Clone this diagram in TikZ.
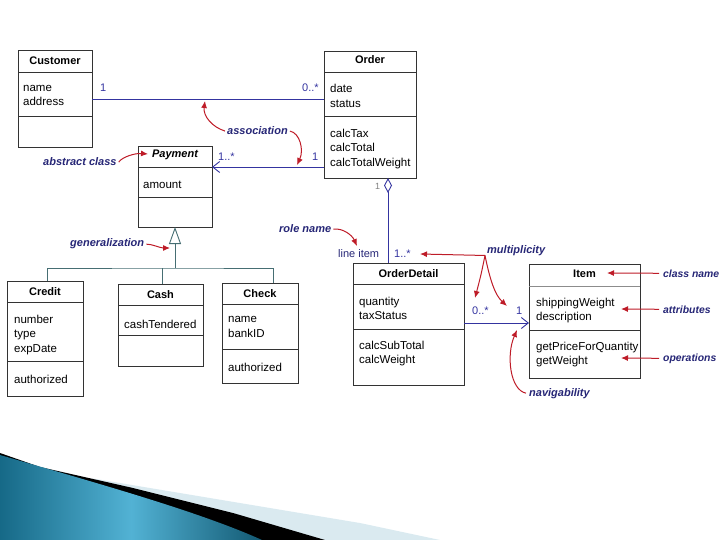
\documentclass[tikz,border=0pt]{standalone}
\usepackage{fontspec}
\setmainfont{Liberation Sans}
\usetikzlibrary{arrows.meta, positioning}

\definecolor{assocblue}{RGB}{52,52,160}
\definecolor{notenavy}{RGB}{38,38,118}
\definecolor{notered}{RGB}{190,28,40}
\definecolor{gencol}{RGB}{70,110,115}
\definecolor{swooshdark}{RGB}{22,105,135}
\definecolor{swooshlight}{RGB}{82,178,212}
\definecolor{swooshpale}{RGB}{218,234,240}

\begin{document}
\begin{tikzpicture}[x=1pt, y=-1pt,
    cls/.style={draw=black!80, line width=0.9pt, fill=white, anchor=north west, inner sep=0pt, outer sep=0pt},
    sep/.style={draw=black!80, line width=0.9pt},
    title/.style={anchor=base, inner sep=0pt, font=\fontsize{11}{13}\selectfont\bfseries},
    attr/.style={anchor=north west, align=left, inner sep=0pt, font=\fontsize{11.5}{14.5}\selectfont, execute at begin node=\strut},
    mult/.style={anchor=base west, inner sep=0pt, text=assocblue, font=\fontsize{11}{13}\selectfont},
    assoc/.style={draw=assocblue, line width=0.9pt},
    gen/.style={draw=gencol, line width=0.9pt},
    note/.style={anchor=base west, inner sep=0pt, text=notenavy, font=\fontsize{11}{13}\selectfont\bfseries\itshape},
    sidenote/.style={note, font=\fontsize{10.4}{13}\selectfont\bfseries\itshape},
    pointer/.style={draw=notered, line width=1pt, -{Latex[length=7pt, width=6pt]}},
    ]
    \useasboundingbox (0,0) rectangle (720,540);

    % slide swoosh
    \fill[swooshpale] (90,478) -- (360,523) -- (440,540) -- (320,540) -- cycle;
    \fill[black] (0,453) -- (40,467) -- (133,488) -- (233,513) -- (325,540) -- (0,540) -- cycle;
    \shade[left color=swooshdark, right color=swooshdark!85!black, middle color=swooshlight]
      (0,455) .. controls (100,484) and (200,512) .. (262,540) -- (0,540) -- cycle;

    % Customer
    \node[cls, minimum width=74pt, minimum height=97pt] (customer) at (18,50) {};
    \node[title] at ([yshift=-15pt]customer.north) {Customer};
    \draw[sep] ([yshift=-22pt]customer.north west) -- ([yshift=-22pt]customer.north east);
    \draw[sep] ([yshift=-66pt]customer.north west) -- ([yshift=-66pt]customer.north east);
    \node[attr] at ([shift={(5pt,-35pt)}]customer.north west) {name\\address};

    % Order
    \node[cls, minimum width=92pt, minimum height=127pt] (order) at (324,51) {};
    \node[title] at ([yshift=-13pt]order.north) {Order};
    \draw[sep] ([yshift=-21pt]order.north west) -- ([yshift=-21pt]order.north east);
    \draw[sep] ([yshift=-65pt]order.north west) -- ([yshift=-65pt]order.north east);
    \node[attr] at ([shift={(6pt,-33pt)}]order.north west) {date\\status};
    \node[attr] at ([shift={(6pt,-77.5pt)}]order.north west) {calcTax\\calcTotal\\calcTotalWeight};

    % Payment
    \node[cls, minimum width=74pt, minimum height=81pt] (payment) at (138,146) {};
    \node[title] at ([yshift=-11.5pt]payment.north) {\itshape Payment};
    \draw[sep] ([yshift=-21pt]payment.north west) -- ([yshift=-21pt]payment.north east);
    \draw[sep] ([yshift=-51pt]payment.north west) -- ([yshift=-51pt]payment.north east);
    \node[attr] at ([shift={(5pt,-32.5pt)}]payment.north west) {amount};

    % Credit
    \node[cls, minimum width=76pt, minimum height=115pt] (credit) at (7,281) {};
    \node[title] at ([yshift=-14pt]credit.north) {Credit};
    \draw[sep] ([yshift=-21pt]credit.north west) -- ([yshift=-21pt]credit.north east);
    \draw[sep] ([yshift=-80pt]credit.north west) -- ([yshift=-80pt]credit.north east);
    \node[attr] at ([shift={(7pt,-33.5pt)}]credit.north west) {number\\type\\expDate};
    \node[attr] at ([shift={(7pt,-92.5pt)}]credit.north west) {authorized};

    % Cash
    \node[cls, minimum width=85pt, minimum height=82pt] (cash) at (118,284) {};
    \node[title] at ([yshift=-14pt]cash.north) {Cash};
    \draw[sep] ([yshift=-21pt]cash.north west) -- ([yshift=-21pt]cash.north east);
    \draw[sep] ([yshift=-51pt]cash.north west) -- ([yshift=-51pt]cash.north east);
    \node[attr] at ([shift={(6pt,-34.5pt)}]cash.north west) {cashTendered};

    % Check
    \node[cls, minimum width=76pt, minimum height=100pt] (check) at (222,283) {};
    \node[title] at ([yshift=-14pt]check.north) {Check};
    \draw[sep] ([yshift=-21pt]check.north west) -- ([yshift=-21pt]check.north east);
    \draw[sep] ([yshift=-66pt]check.north west) -- ([yshift=-66pt]check.north east);
    \node[attr] at ([shift={(6pt,-33.5pt)}]check.north west) {name\\bankID};
    \node[attr] at ([shift={(6pt,-78.5pt)}]check.north west) {authorized};

    % OrderDetail
    \node[cls, minimum width=111pt, minimum height=122pt] (orderdetail) at (353,263) {};
    \node[title] at ([yshift=-14pt]orderdetail.north) {OrderDetail};
    \draw[sep] ([yshift=-21pt]orderdetail.north west) -- ([yshift=-21pt]orderdetail.north east);
    \draw[sep] ([yshift=-66pt]orderdetail.north west) -- ([yshift=-66pt]orderdetail.north east);
    \node[attr] at ([shift={(6pt,-33.5pt)}]orderdetail.north west) {quantity\\taxStatus};
    \node[attr] at ([shift={(6pt,-77.5pt)}]orderdetail.north west) {calcSubTotal\\calcWeight};

    % Item
    \node[cls, minimum width=111pt, minimum height=114pt] (item) at (529,264) {};
    \node[title] at ([yshift=-13pt]item.north) {Item};
    \draw[draw=black!45, line width=0.9pt] ([yshift=-22pt]item.north west) -- ([yshift=-22pt]item.north east);
    \draw[sep] ([yshift=-66pt]item.north west) -- ([yshift=-66pt]item.north east);
    \node[attr] at ([shift={(7pt,-33.5pt)}]item.north west) {shippingWeight\\description};
    \node[attr] at ([shift={(7pt,-77.5pt)}]item.north west) {getPriceForQuantity\\getWeight};

    % Associations
    \draw[assoc] (customer.east |- 0,99) -- (order.west |- 0,99);
    \draw[assoc, {Straight Barb[length=7pt, width=11pt]}-] (payment.east |- 0,167) -- (order.west |- 0,167);
    \draw[assoc, {Diamond[open, length=15pt, width=8pt]}-] (order.south -| 388,0) -- (orderdetail.north -| 388,0);
    \draw[assoc, -{Straight Barb[length=7pt, width=11pt]}] (orderdetail.east |- 0,323) -- (item.west |- 0,323);

    % Generalization
    \coordinate (genbar) at (175,268);
    \draw[gen, -{Triangle[open, length=17pt, width=12pt]}] (genbar) -- (payment.south);
    \draw[gen] ([xshift=2pt]credit.north) |- (genbar) -| ([xshift=13pt]check.north);
    \draw[gen] ([xshift=1.5pt]cash.north) -- ([xshift=1.5pt]cash.north |- genbar);

    % Multiplicities and role name
    \node[mult] (mcust) at (100,92) {1};
    \node[mult] (morder) at (302,92) {0..*};
    \node[mult] (mpay) at (218,161) {1..*};
    \node[mult] (morderpay) at (312,161) {1};
    \node[mult, text=gray, font=\fontsize{9}{11}\selectfont] (morderdet) at (375,190) {1};
    \node[mult, text=notenavy] (rolename) at (338,257) {line item};
    \node[mult] (mdetail) at (394,257) {1..*};
    \node[mult] (mdetitem) at (472,314) {0..*};
    \node[mult] (mitem) at (516,314) {1};

    % Notes
    \node[note] (nassoc) at (227,135) {association};
    \node[note] (nabstract) at (43,166) {abstract class};
    \node[note] (ngen) at (70,247) {generalization};
    \node[note] (nrole) at (279,233) {role name};
    \node[note] (nmult) at (487,253) {multiplicity};
    \node[sidenote] (nclass) at (663,277) {class name};
    \node[sidenote] (nattr) at (663,313) {attributes};
    \node[sidenote] (nops) at (663,361) {operations};
    \node[note] (nnav) at (529,396) {navigability};

    % Pointer tips
    \coordinate (assocA) at (205,101);
    \coordinate (assocB) at (297,165);
    \coordinate (abstractA) at (148,154);
    \coordinate (genA) at (170,248);
    \coordinate (roleA) at (357,246);
    \coordinate (multA) at (420,254);
    \coordinate (multB) at (475,298);
    \coordinate (multC) at (507,306);
    \coordinate (classA) at (607,273);
    \coordinate (attrA) at (621,309);
    \coordinate (opA) at (621,358);
    \coordinate (navA) at (517,330);

    % Pointers
    \draw[pointer] ([xshift=-2pt]nassoc.west) .. controls (212,127) and (203,116) .. (assocA);
    \draw[pointer] ([xshift=2pt]nassoc.east) .. controls (300,133) and (304,150) .. (assocB);
    \draw[pointer] ([xshift=2pt]nabstract.east) .. controls (122,157) and (135,153) .. (abstractA);
    \draw[pointer] ([xshift=2pt]ngen.east) .. controls (152,244) and (160,248) .. (genA);
    \draw[pointer] ([xshift=2pt]nrole.east) .. controls (343,228) and (352,235) .. (roleA);
    \draw[pointer] ([xshift=-2pt]nmult.south west) -- (multA);
    \draw[pointer] ([xshift=-2pt]nmult.south west) .. controls (481,275) .. (multB);
    \draw[pointer] ([xshift=-2pt]nmult.south west) .. controls (490,280) and (495,295) .. (multC);
    \draw[pointer] ([xshift=-4pt]nclass.west) -- (classA);
    \draw[pointer] ([xshift=-4pt]nattr.west) -- (attrA);
    \draw[pointer] ([xshift=-4pt]nops.west) -- (opA);
    \draw[pointer] ([xshift=-3pt]nnav.west) .. controls (510,390) and (506,355) .. (navA);
  \end{tikzpicture}
\end{document}
